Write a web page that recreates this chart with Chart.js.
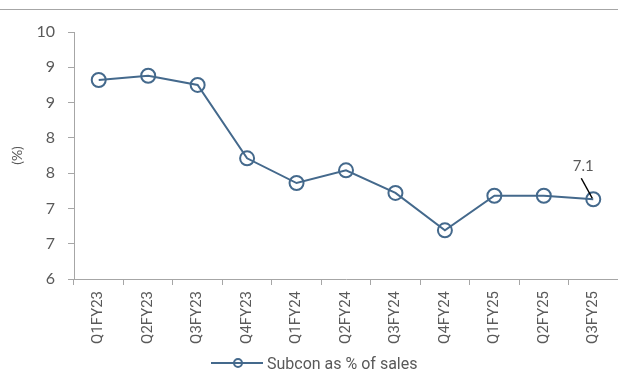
<!DOCTYPE html>
<html>
<head>
<meta charset="utf-8">
<script src="https://cdn.jsdelivr.net/npm/chart.js@4"></script>
<style>
  html, body { margin: 0; padding: 0; background: #fff; }
  #wrap { position: relative; width: 618px; height: 371px; overflow: hidden; }
  #topRule { position: absolute; left: 0; top: 9px; width: 618px; border-top: 1px solid #a6a6a6; }
  #legend { position: absolute; left: 211px; top: 353px; height: 20px; display: flex; align-items: center;
            font: 16px Roboto, sans-serif; color: #595959; white-space: nowrap; }
  #legend svg { margin-right: 4px; }
</style>
</head>
<body>
<div id="wrap">
  <div id="topRule"></div>
  <!-- a bit wider than the page: Chart.js reserves room for the last rotated label -->
  <canvas id="subconChart" width="627" height="371"></canvas>
  <div id="legend"></div>
</div>
<script>
(function () {
  var QUARTERS = ['Q1FY23', 'Q2FY23', 'Q3FY23', 'Q4FY23', 'Q1FY24', 'Q2FY24',
                  'Q3FY24', 'Q4FY24', 'Q1FY25', 'Q2FY25', 'Q3FY25'];
  var SUBCON_PCT = [8.82, 8.88, 8.75, 7.71, 7.36, 7.54, 7.22, 6.69, 7.18, 7.18, 7.13];
  var SERIES_LABEL = 'Subcon as % of sales';
  var LAST_LABEL = '7.1';

  var LINE = '#44698c';
  var AXIS = '#a6a6a6';
  var TEXT = '#595959';

  // html legend: line with a hollow marker, then the series name
  var legendEl = document.getElementById('legend');
  legendEl.innerHTML =
    '<svg width="52" height="12"><line x1="0" y1="6" x2="52" y2="6" stroke="' + LINE + '" stroke-width="2"/>' +
    '<circle cx="27" cy="6" r="4" fill="none" stroke="' + LINE + '" stroke-width="2"/></svg>';
  legendEl.appendChild(document.createTextNode(SERIES_LABEL));

  // value tag on the last point, with a short leader line
  var lastTag = {
    id: 'lastTag',
    afterDatasetsDraw: function (chart) {
      var meta = chart.getDatasetMeta(0);
      var pt = meta.data[meta.data.length - 1];
      if (!pt) return;
      var ctx = chart.ctx;
      ctx.save();
      ctx.strokeStyle = '#000';
      ctx.lineWidth = 1.5;
      ctx.beginPath();
      ctx.moveTo(pt.x - 12, pt.y - 21);
      ctx.lineTo(pt.x - 1, pt.y - 1);
      ctx.stroke();
      ctx.fillStyle = TEXT;
      ctx.font = '15px Lato, sans-serif';
      ctx.textAlign = 'center';
      ctx.textBaseline = 'bottom';
      ctx.fillText(LAST_LABEL, pt.x - 10, pt.y - 26);
      ctx.restore();
    }
  };

  new Chart(document.getElementById('subconChart').getContext('2d'), {
    type: 'line',
    data: {
      labels: QUARTERS,
      datasets: [{
        label: SERIES_LABEL,
        data: SUBCON_PCT,
        borderColor: LINE,
        backgroundColor: 'rgba(0,0,0,0)',
        borderWidth: 2,
        tension: 0,
        pointRadius: 7,
        pointBorderWidth: 2,
        pointBorderColor: LINE,
        pointBackgroundColor: 'rgba(0,0,0,0)',
      }]
    },
    options: {
      responsive: false,
      animation: false,
      layout: { padding: { top: 32, right: 0, left: 0, bottom: 22 } },
      plugins: {
        tooltip: { enabled: false },
        legend: { display: false }
      },
      scales: {
        x: {
          offset: true,
          border: { color: AXIS, width: 1 },
          grid: { display: true, drawOnChartArea: false, drawTicks: true, tickLength: 6, offset: true, color: AXIS },
          ticks: {
            color: TEXT,
            minRotation: 90, maxRotation: 90,
            padding: 6,
            font: { size: 15, family: 'Roboto, sans-serif' }
          },
          afterFit: function (s) { s.height = 70; }
        },
        y: {
          min: 6, max: 9.5,
          border: { color: AXIS, width: 1 },
          grid: { display: true, drawOnChartArea: false, drawTicks: true, tickLength: 6, color: AXIS },
          ticks: {
            stepSize: 0.5,
            color: TEXT,
            padding: 13,
            font: { size: 16, family: 'Lato, sans-serif' },
            callback: function (v) { return Math.round(v); }
          },
          title: {
            display: true,
            text: '(%)',
            color: TEXT,
            padding: { top: 9, bottom: 0 },
            font: { size: 14, family: 'Lato, sans-serif' }
          },
          afterFit: function (s) { s.width = 74; }
        }
      }
    },
    plugins: [lastTag]
  });
})();
</script>
</body>
</html>
